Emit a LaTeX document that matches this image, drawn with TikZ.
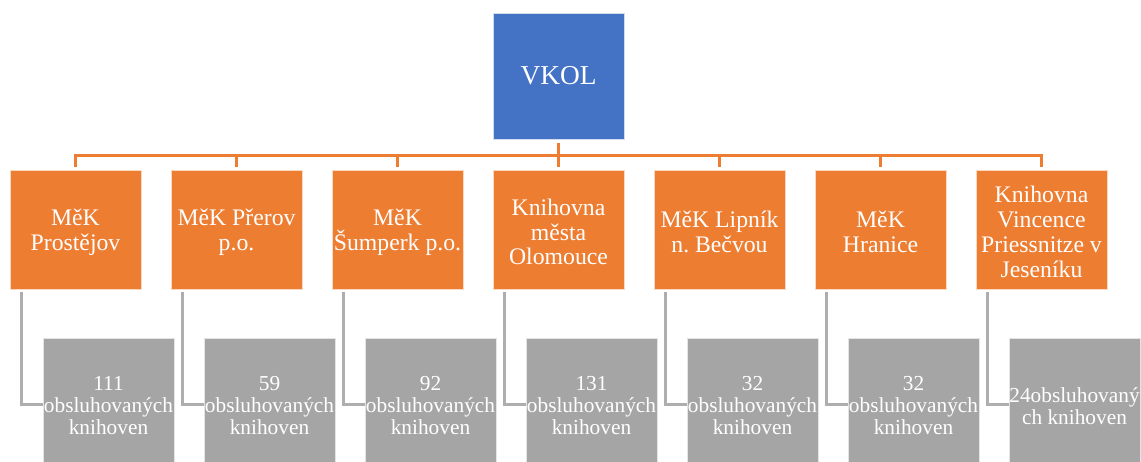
\documentclass[tikz,border=0pt]{standalone}
\usepackage{fontspec}
\setmainfont{Liberation Serif}
\frenchspacing
\definecolor{vblue}{HTML}{4472C4}
\definecolor{vorange}{HTML}{ED7D31}
\definecolor{vgrey}{HTML}{A5A5A5}
\tikzset{
  topbox/.style={fill=vblue, draw=white!75!vblue, line width=0.6pt, text=white, minimum width=98.25pt, minimum height=94.5pt, inner sep=0pt, align=center, font=\fontsize{20.5}{22}\selectfont},
  orangebox/.style={fill=vorange, draw=white!70!vorange, line width=0.6pt, minimum width=98.25pt, minimum height=89.25pt, inner sep=0pt},
  orangetext/.style={text=white, inner sep=0pt, align=center, font=\fontsize{17.8}{18.6}\selectfont},
  greybox/.style={fill=vgrey, draw=white!70!vgrey, line width=0.6pt, minimum width=98.25pt, minimum height=99pt, inner sep=0pt},
  greytext/.style={text=white, inner sep=0pt, align=center, font=\fontsize{16}{16.5}\selectfont},
  orangeline/.style={draw=vorange, line width=2.25pt},
  greyline/.style={draw=vgrey!90!white, line width=2.25pt},
}
\begin{document}
\begin{tikzpicture}[x=0.75pt, y=-0.75pt]
\useasboundingbox (0,0) rectangle (1141,461);
\clip (0,0) rectangle (1141,461);
\fill[white] (0,0) rectangle (1141,461);
\node[topbox] (vkol) at (558.5,76) {VKOL};
\foreach \i/\x in {1/75.5,2/236.5,3/397.5,4/558.5,5/719.5,6/880.5,7/1041.5} {
  \node[orangebox] (o\i) at (\x,229.5) {};
}
\node[orangetext] (t1) at (75.5,232) {MěK\\Prostějov};
\node[orangetext] (t2) at (236.5,232) {MěK Přerov\\p.o.};
\node[orangetext] (t3) at (397.5,232) {MěK\\Šumperk p.o.};
\node[orangetext] (t4) at (558.5,232) {Knihovna\\města\\Olomouce};
\node[orangetext] (t5) at (719.5,232) {MěK Lipník\\n. Bečvou};
\node[orangetext] (t6) at (880.5,232) {MěK\\Hranice};
\node[orangetext] (t7) at (1041.5,232) {Knihovna\\Vincence\\Priessnitze v\\Jeseníku};
\foreach \i/\x in {1/108.5,2/269.5,3/430.5,4/591.5,5/752.5,6/913.5,7/1074.5} {
  \node[greybox] (g\i) at (\x,404) {};
}
\node[greytext] (u1) at (108.5,406) {111\\obsluhovaných\\knihoven};
\node[greytext] (u2) at (269.5,406) {59\\obsluhovaných\\knihoven};
\node[greytext] (u3) at (430.5,406) {92\\obsluhovaných\\knihoven};
\node[greytext] (u4) at (591.5,406) {131\\obsluhovaných\\knihoven};
\node[greytext] (u5) at (752.5,406) {32\\obsluhovaných\\knihoven};
\node[greytext] (u6) at (913.5,406) {32\\obsluhovaných\\knihoven};
\node[greytext] (u7) at (1074.5,406) {24obsluhovaný\\ch knihoven};
\coordinate (bus) at (0,155);
\draw[orangeline] ([yshift=-2.5pt]vkol.south) -- ([yshift=2.25pt]o4.north);
\draw[orangeline] ([yshift=2.25pt]o1.north) -- (o1.north |- bus) -- (o7.north |- bus) -- ([yshift=2.25pt]o7.north);
\foreach \i in {2,3,5,6} {
  \draw[orangeline] ([yshift=2.25pt]o\i.north) -- (o\i.north |- bus);
}
\foreach \i in {1,...,7} {
  \draw[greyline] ([xshift=8.8pt,yshift=-2.25pt]o\i.south west) |- (g\i.west);
}
\end{tikzpicture}
\end{document}
